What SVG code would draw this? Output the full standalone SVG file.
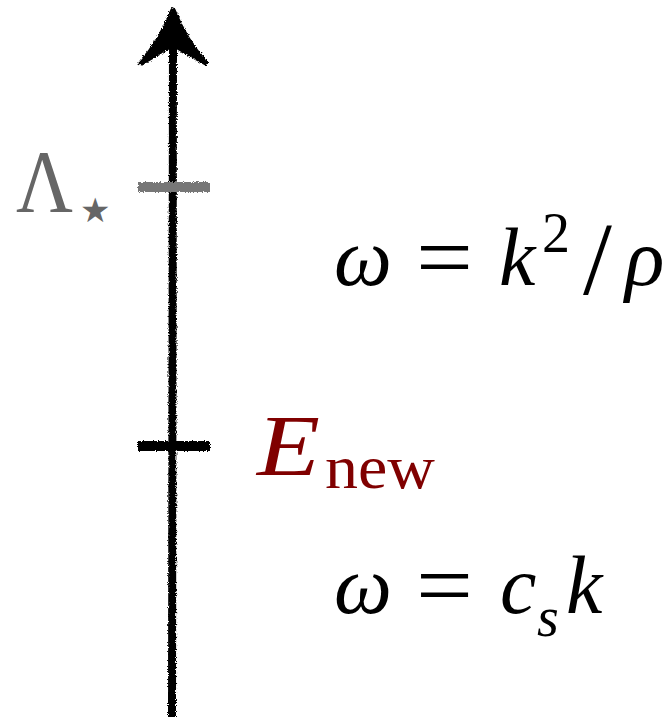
<svg xmlns="http://www.w3.org/2000/svg" width="668" height="717" viewBox="0 0 668 717">
<defs>
<filter id="rough" filterUnits="userSpaceOnUse" x="0" y="0" width="668" height="717">
<feTurbulence type="fractalNoise" baseFrequency="0.9" numOctaves="2" seed="3" result="n"/>
<feDisplacementMap in="SourceGraphic" in2="n" scale="4" xChannelSelector="R" yChannelSelector="G"/>
</filter>
</defs>
<style>
.m{font-family:"Liberation Serif","DejaVu Serif",serif;font-style:italic;}
.r{font-family:"Liberation Serif","DejaVu Serif",serif;font-style:normal;}
.s{font-family:"DejaVu Sans",sans-serif;}
</style>
<rect width="668" height="717" fill="#fff"/>
<g id="connectors" filter="url(#rough)">
<line id="axis" x1="172" y1="717" x2="173" y2="40" stroke="#000" stroke-width="8"/>
<path id="arrowhead" d="M173,10 Q186,42 206,63 Q186,52 173,44 Q160,52 141,63 Q160,42 173,10 Z" fill="#000" stroke="#000" stroke-width="5" stroke-linejoin="round"/>
</g>
<g id="tick-lambda" filter="url(#rough)">
<line x1="138" y1="187" x2="210" y2="187" stroke="#777" stroke-width="10"/>
</g>
<g id="tick-enew" filter="url(#rough)">
<line x1="138" y1="446" x2="210" y2="446" stroke="#000" stroke-width="10"/>
</g>
<g id="label-lambda" fill="#666">
<text class="r" x="16" y="211" font-size="88" textLength="57" lengthAdjust="spacingAndGlyphs">Λ</text>
<text class="s" x="80" y="222" font-size="34">★</text>
</g>
<g id="label-enew" fill="#800000">
<text class="m" x="257" y="475" font-size="86" textLength="63" lengthAdjust="spacingAndGlyphs">E</text>
<text class="r" x="325" y="488" font-size="62" textLength="110" lengthAdjust="spacingAndGlyphs">new</text>
</g>
<g id="label-quadratic" fill="#000">
<text class="m" x="334" y="285" font-size="82">ω</text>
<text class="r" x="416" y="288" font-size="92" textLength="57" lengthAdjust="spacingAndGlyphs">=</text>
<text class="m" x="499" y="285" font-size="82">k</text>
<text class="r" x="542" y="252" font-size="56">2</text>
<text class="r" x="583" y="294" font-size="104">/</text>
<text class="m" x="625" y="285" font-size="82">ρ</text>
</g>
<g id="label-linear" fill="#000">
<text class="m" x="334" y="613" font-size="82">ω</text>
<text class="r" x="416" y="616" font-size="92" textLength="57" lengthAdjust="spacingAndGlyphs">=</text>
<text class="m" x="500" y="613" font-size="82">c</text>
<text class="m" x="537" y="636" font-size="56">s</text>
<text class="m" x="566" y="613" font-size="82">k</text>
</g>
</svg>
